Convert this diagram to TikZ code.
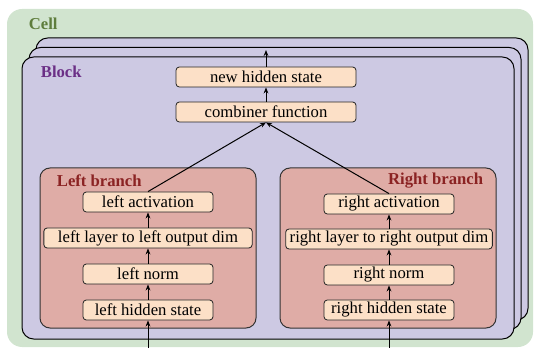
\documentclass[tikz,border=0pt]{standalone}
\usepackage{fontspec}
\setmainfont{Liberation Serif}
\usetikzlibrary{arrows.meta}
\definecolor{cellgreen}{HTML}{D1E4CF}
\definecolor{celltext}{HTML}{5E7D3C}
\definecolor{blockfill}{HTML}{CDC9E3}
\definecolor{blocktext}{HTML}{6B2F86}
\definecolor{branchfill}{HTML}{DFACA6}
\definecolor{branchtext}{HTML}{8B2323}
\definecolor{opfill}{HTML}{FCE0C7}

\begin{document}
\begin{tikzpicture}[x=0.6pt,y=0.6pt,
    op/.style={draw=black!85,fill=opfill,rounded corners=2pt,line width=0.5pt,
      minimum height=12pt,inner sep=1pt},
    flow/.style={-{Stealth[length=3.6pt,width=2.8pt]},line width=0.6pt},
    branch/.style={draw=black!80,fill=branchfill,rounded corners=6pt,line width=0.6pt}]
  \useasboundingbox (0,0) rectangle (535,348);
  % cell
  \fill [cellgreen,rounded corners=9pt] (7,1) rectangle (533,339);
  \node [anchor=west,text=celltext,font=\bfseries] (celllabel) at (23,324) {Cell};
  % stacked blocks, back to front
  \foreach \k in {2,1,0} {
    \draw [fill=blockfill,rounded corners=7pt,line width=0.6pt]
      (22+7*\k,9+9.5*\k) rectangle (514+7*\k,291+9.5*\k);
  }
  \node [anchor=west,text=blocktext,font=\bfseries] (blocklabel) at (35,276) {Block};
  % branches
  \draw [branch] (40,20) rectangle (256,180);
  \draw [branch] (280,20) rectangle (496,180);
  \node [anchor=west,text=branchtext,font=\bfseries] (llabel) at (51,167) {Left branch};
  \node [anchor=east,text=branchtext,font=\bfseries] (rlabel) at (489,167) {Right branch};
  % block outputs
  \node [op,minimum width=108pt] (newh) at (266,271) {new hidden state};
  \node [op,minimum width=108pt] (comb) at (266,236) {combiner function};
  % left branch
  \node [op,minimum width=78pt] (lact) at (148,146) {left activation};
  \node [op,minimum width=125pt] (llay) at (148,110) {left layer to left output dim};
  \node [op,minimum width=78pt] (lnorm) at (148,74) {left norm};
  \node [op,minimum width=78pt] (lhid) at (148,38) {left hidden state};
  % right branch
  \node [op,minimum width=78pt] (ract) at (389,144) {right activation};
  \node [op,minimum width=124pt] (rlay) at (389,109) {right layer to right output dim};
  \node [op,minimum width=78pt] (rnorm) at (389,73) {right norm};
  \node [op,minimum width=78pt] (rhid) at (389,38) {right hidden state};
  \coordinate (lin) at (148,0);
  \coordinate (rin) at (389,0);
  \coordinate (out) at (266,298);
  % connectors
  \draw [flow] (lin) -- (lhid);
  \draw [flow] (lhid) -- (lnorm);
  \draw [flow] (lnorm) -- (llay);
  \draw [flow] (llay) -- (lact);
  \draw [flow] (rin) -- (rhid);
  \draw [flow] (rhid) -- (rnorm);
  \draw [flow] (rnorm) -- (rlay);
  \draw [flow] (rlay) -- (ract);
  \draw [flow] (lact.north) -- (comb.south);
  \draw [flow] (ract.north) -- (comb.south);
  \draw [flow] (comb) -- (newh);
  \draw [flow] (newh) -- (out);
\end{tikzpicture}
\end{document}
